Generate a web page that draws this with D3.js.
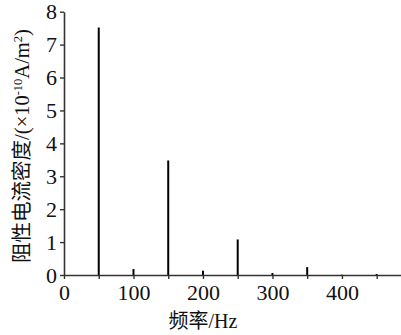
<!DOCTYPE html>
<html>
<head>
<meta charset="utf-8">
<script src="https://cdn.jsdelivr.net/npm/d3@7"></script>
<style>
  html, body { margin: 0; padding: 0; background: #fff; }
  svg { display: block; }
  text { font-family: "Liberation Serif", "Noto Sans CJK SC", serif; fill: #111; }
</style>
</head>
<body>
<svg id="chart" width="401" height="335"></svg>
<script>
// Harmonic frequencies (Hz) and resistive current density (×10^-10 A/m²)
const frequencies = [50, 100, 150, 200, 250, 300, 350, 400, 450];
const densities   = [7.52, 0.18, 3.48, 0.13, 1.08, 0.06, 0.24, 0.01, 0.03];
const xTicks = [0, 50, 100, 150, 200, 250, 300, 350, 400, 450];
const xLabels = [0, 100, 200, 300, 400];
const yTicks = [0, 1, 2, 3, 4, 5, 6, 7, 8];

const svg = d3.select("#chart");

const x = d3.scaleLinear().domain([0, 485]).range([64, 401]);
const y = d3.scaleLinear().domain([0, 8]).range([275, 11.7]);

// spectral lines
svg.append("g")
  .selectAll("line")
  .data(frequencies)
  .join("line")
  .attr("x1", d => x(d))
  .attr("x2", d => x(d))
  .attr("y1", y(0))
  .attr("y2", (d, i) => y(densities[i]))
  .attr("stroke", "#000")
  .attr("stroke-width", 2);

// x axis
const xAxis = svg.append("g")
  .attr("transform", `translate(0,${y(0)})`)
  .call(d3.axisBottom(x)
    .tickValues(xTicks)
    .tickSize(4)
    .tickSizeOuter(0)
    .tickPadding(5)
    .tickFormat(d => xLabels.includes(d) ? d : ""));

// y axis
const yAxis = svg.append("g")
  .attr("transform", `translate(${x(0)},0)`)
  .call(d3.axisLeft(y)
    .tickValues(yTicks)
    .tickSize(4)
    .tickSizeOuter(0)
    .tickPadding(3)
    .tickFormat(d3.format("d")));

[xAxis, yAxis].forEach(g => {
  g.select(".domain").attr("stroke", "#333").attr("stroke-width", 1.6);
  g.selectAll(".tick line").attr("stroke", "#333").attr("stroke-width", 1.4);
  g.selectAll(".tick text")
    .attr("font-family", "Liberation Serif, serif")
    .attr("font-size", 22)
    .attr("fill", "#111");
});

// x title
svg.append("text")
  .attr("x", 203)
  .attr("y", 328)
  .attr("text-anchor", "middle")
  .attr("font-size", 20)
  .text("频率/Hz");

// y title
const yTitle = svg.append("text")
  .attr("transform", "translate(29,146) rotate(-90)")
  .attr("text-anchor", "middle")
  .attr("font-size", 20.5);
yTitle.append("tspan").text("阻性电流密度/(×10");
yTitle.append("tspan").attr("dy", -7).attr("font-size", 12.5).text("-10");
yTitle.append("tspan").attr("dy", 7).text("A/m");
yTitle.append("tspan").attr("dy", -7).attr("font-size", 12.5).text("2");
yTitle.append("tspan").attr("dy", 7).text(")");
</script>
</body>
</html>
